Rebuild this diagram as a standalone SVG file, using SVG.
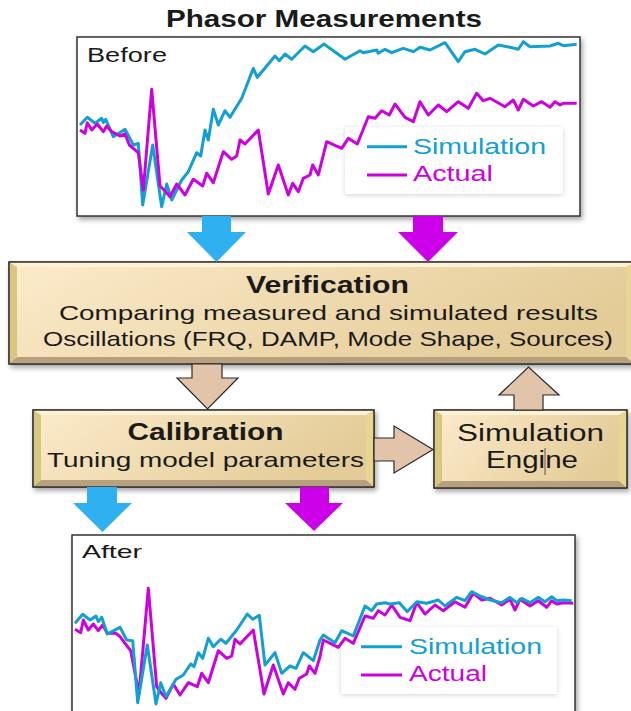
<svg xmlns="http://www.w3.org/2000/svg" width="631" height="711" viewBox="0 0 631 711">
<defs>
<linearGradient id="boxg" x1="0" y1="0" x2="1" y2="0.3">
<stop offset="0" stop-color="#FCEBCB"/>
<stop offset="1" stop-color="#E4CC98"/>
</linearGradient>
<filter id="sh" x="-10%" y="-10%" width="125%" height="130%">
<feDropShadow dx="2" dy="3" stdDeviation="2.5" flood-color="#000" flood-opacity="0.35"/>
</filter>
<filter id="lsh" x="-10%" y="-10%" width="120%" height="130%">
<feDropShadow dx="0" dy="1" stdDeviation="2" flood-color="#6a7f90" flood-opacity="0.35"/>
</filter>
</defs>
<style>
text{font-family:"Liberation Sans",Arial,sans-serif;fill:#1a1a1a}
.b{font-weight:bold}
.chart{fill:#fff;stroke:#333;stroke-width:1.5}
.legend{fill:#fff}
.sim{fill:none;stroke:#129FD2;stroke-width:3;stroke-linejoin:round}
.act{fill:none;stroke:#CC00E0;stroke-width:3;stroke-linejoin:round}
.ts{fill:#12A0D3}
.ta{fill:#CC00E0}
.box{fill:url(#boxg);stroke:#2a2a2a;stroke-width:1.2}
.bt{fill:#FDF1D6}
.bl{fill:#D6C67E}
.br{fill:#E6D690}
.bb{fill:#B7A07D}
.ab{fill:#2FB0F0}
.am{fill:#CC00E8}
.an{fill:#E2C4AA;stroke:#2a2a2a;stroke-width:1.2;stroke-linejoin:miter}
</style>

<text x="324" y="27" class="b" font-size="23" text-anchor="middle" textLength="316" lengthAdjust="spacingAndGlyphs">Phasor Measurements</text>

<g id="before">
<rect class="chart" x="77" y="37" width="503" height="179" filter="url(#sh)"/>
<text x="87" y="62" font-size="20" textLength="80" lengthAdjust="spacingAndGlyphs">Before</text>
<rect class="legend" x="345" y="127" width="218" height="67" filter="url(#lsh)"/>
<line class="sim" x1="367" y1="146.7" x2="407" y2="146.7"/>
<text class="ts" x="413" y="154" font-size="22" textLength="133" lengthAdjust="spacingAndGlyphs">Simulation</text>
<line class="act" x1="367" y1="175" x2="407" y2="175"/>
<text class="ta" x="413" y="181" font-size="22" textLength="80" lengthAdjust="spacingAndGlyphs">Actual</text>
<polyline class="sim" points="80,125 87.3,117.3 95,123.3 101.7,118.3 103.3,122.7 105.7,119.3 113.3,136.7 125,129.3 133.3,145 138.3,143.3 142.7,205 152.7,145 161.7,206.7 166.7,184 171.7,200 181.7,180 188.3,171.7 196.7,152.7 200.7,156 205,130 208.3,140 213.3,109.3 218.3,125 225,110.7 230,117.3 241.7,98.3 253.3,68.3 257.3,77.3 275,56 279.3,60.7 285,54 291.7,59.3 305,46 313.3,51.7 324,44 345,59.3 360,50.7 363.3,52.7 376.7,50 378.3,53.3 385,49.3 391.7,52.7 403.3,48.3 413.3,51.7 420,47.3 430,50 445,42.7 458.3,61.7 465,51.7 475,49.3 485,54 498.3,45 510,47.3 518.3,49.3 523.3,41.7 530,46.7 550,46 558.3,43.3 563.3,45.7 576.7,44.3"/>
<polyline class="act" points="80,130 85,133.3 87.3,122.7 91.7,130 97.3,124 103.3,131.7 106.7,126 111.7,131.7 120,136 125,134 129.3,145 138.3,152.7 143.3,190 151.7,89.3 160,186 166.7,192.7 170,196.7 176.7,184 185,195 193.3,179.3 202.7,186 206.7,173.3 213.3,182.7 223.3,151.7 231.7,159.3 236.7,156 240,140 245,144 258.3,130 268.3,194 278.3,165 288.3,195 292.7,183.3 298.3,191.7 303.3,178.3 310,175 312.7,165 318.3,175 326.7,141.7 341.7,148.3 348.3,138.3 357.3,144 368.3,116.7 375,118.3 381.7,110.7 389.3,115 395,104 405,117.3 413.3,121.7 420,101.7 428.3,115 438.3,105 446.7,111.7 458.3,101.7 468.3,108.3 476.7,93.3 483.3,100.7 490,98.3 505,106.7 513.3,100 518.3,110 523.3,99.3 533.3,106 541.7,101.7 550,107.3 555,101.7 560,105 563.3,103.3 576.7,103.3"/>
</g>

<g id="verification">
<g filter="url(#sh)">
<rect class="box" x="9" y="262" width="625" height="102"/>
<polygon class="bt" points="9.6,262.6 633.4,262.6 626,267 17,267"/>
<polygon class="bl" points="9.6,262.6 17,267 17,357 9.6,363.4"/>
<polygon class="br" points="633.4,262.6 633.4,363.4 626,357 626,267"/>
<polygon class="bb" points="9.6,363.4 17,357 626,357 633.4,363.4"/>
<rect x="9" y="262" width="625" height="102" fill="none" stroke="#2a2a2a" stroke-width="1.2"/>
</g>
<text x="327.5" y="293" class="b" font-size="23" text-anchor="middle" textLength="163" lengthAdjust="spacingAndGlyphs">Verification</text>
<text x="59" y="320" font-size="21" textLength="539" lengthAdjust="spacingAndGlyphs">Comparing measured and simulated results</text>
<text x="43" y="346" font-size="21" textLength="570" lengthAdjust="spacingAndGlyphs">Oscillations (FRQ, DAMP, Mode Shape, Sources)</text>
</g>

<g id="calibration">
<g filter="url(#sh)">
<rect class="box" x="33" y="410" width="341" height="77"/>
<polygon class="bt" points="33.6,410.6 373.4,410.6 366,415 41,415 "/>
<polygon class="bl" points="33.6,410.6 41,415 41,480 33.6,486.4"/>
<polygon class="br" points="373.4,410.6 373.4,486.4 366,480 366,415"/>
<polygon class="bb" points="33.6,486.4 41,480 366,480 373.4,486.4"/>
<rect x="33" y="410" width="341" height="77" fill="none" stroke="#2a2a2a" stroke-width="1.2"/>
</g>
<text x="205.5" y="440" class="b" font-size="23" text-anchor="middle" textLength="156" lengthAdjust="spacingAndGlyphs">Calibration</text>
<text x="47" y="467" font-size="21" textLength="317" lengthAdjust="spacingAndGlyphs">Tuning model parameters</text>
</g>

<g id="simulation-engine">
<g filter="url(#sh)">
<rect class="box" x="434" y="410" width="193" height="78"/>
<polygon class="bt" points="434.6,410.6 626.4,410.6 619,415 442,415"/>
<polygon class="bl" points="434.6,410.6 442,415 442,481 434.6,487.4"/>
<polygon class="br" points="626.4,410.6 626.4,487.4 619,481 619,415"/>
<polygon class="bb" points="434.6,487.4 442,481 619,481 626.4,487.4"/>
<rect x="434" y="410" width="193" height="78" fill="none" stroke="#2a2a2a" stroke-width="1.2"/>
</g>
<text x="530.5" y="441" font-size="23" text-anchor="middle" textLength="147" lengthAdjust="spacingAndGlyphs">Simulation</text>
<text x="532" y="468" font-size="23" text-anchor="middle" textLength="92" lengthAdjust="spacingAndGlyphs">Engine</text>
<line x1="545" y1="448" x2="545" y2="475" stroke="#555" stroke-width="1"/>
</g>

<g id="after">
<rect class="chart" x="72" y="535" width="503" height="185" filter="url(#sh)"/>
<text x="82" y="558" font-size="19" textLength="60" lengthAdjust="spacingAndGlyphs">After</text>
<rect class="legend" x="341" y="627" width="216" height="67" filter="url(#lsh)"/>
<line class="sim" x1="361" y1="646.7" x2="402" y2="646.7"/>
<text class="ts" x="409" y="654" font-size="22" textLength="133" lengthAdjust="spacingAndGlyphs">Simulation</text>
<line class="act" x1="361" y1="675" x2="402" y2="675"/>
<text class="ta" x="409" y="681" font-size="22" textLength="78" lengthAdjust="spacingAndGlyphs">Actual</text>
<polyline class="act" points="75,629.3 80.7,632.7 83.3,620 88.3,630 93.3,624 98.3,630.7 102.7,625 107.3,633.3 116,633.3 120,636.7 125,643.3 130.7,650.7 139,694 148.3,588.3 156.7,686.7 161,692.7 166,698.3 173.3,684 180,695 188.3,682.7 197.3,686.7 201.7,673.3 208.3,682.7 218.3,650.7 226.7,658.3 231.7,656 235,639.3 240,644 253.3,630 264,694 273.3,665 283.3,694 288.3,682.7 295,689.3 299.3,678.3 306.7,674 309.3,666 315,673.3 320,656.7 323.3,640 338.3,647.3 345,638.3 353.3,643.3 365,616 373.3,618.3 378.3,610.7 385,615 391.7,605 400,617.3 410,620.7 416.7,602.7 425,614 435,605 443.3,610.7 455,601.7 465,607.3 473.3,593.3 481.7,600 490,598.3 501.7,605 510,599.3 515,610 520,599.3 530,606 538.3,600.7 546.7,607.3 551.7,600.7 556.7,604 563.3,602.7 573.3,603.3"/>
<polyline class="sim" points="75,623.3 82.7,614.3 90,620 96,616 98.3,621.7 101.7,617.3 107.3,634 120,627.3 126.7,640 132.7,640.7 137.7,702.7 147.3,645 156,704 160.7,682.7 166,696.7 176,679.3 183.3,675 190.7,664 194,666.7 198.3,652.7 202.7,658.3 208.3,638.3 213.3,646.7 220.7,639.3 226,643.3 236.7,630 247.3,614 252.7,619.3 259.3,615.3 265,665 275,652.7 281.7,673.3 290,666 296,668.3 303.3,652.7 313.3,660.7 320,640 323.3,635 335,642.7 341.7,630.7 353.3,636 365,606 371.7,610.7 376.7,604 385,602.7 390,604 399.3,602.7 407.3,611.7 416.7,601.7 426.7,603.3 438.3,600 445,606 456.7,597.3 465,600.7 471.7,591.7 480,596 490,600 501.7,602.7 510,597.3 516.7,602.7 521.7,598.3 530,602.7 538.3,597.3 545,601.7 551.7,596.7 556.7,600.7 563.3,600 571.7,600.7"/>
</g>

<g id="connectors">
<polygon class="ab" points="202,216 231,216 231,232 246,232 216.5,262 187,232 202,232"/>
<polygon class="am" points="413,216 443,216 443,232 458,232 428,262 398,232 413,232"/>
<polygon class="an" points="192,364 222,364 222,378 238,378 207.5,409 177,378 192,378"/>
<polygon class="an" points="514,410 514,395 499,395 528.5,367 559,395 543,395 543,410"/>
<polygon class="an" points="374,438 394,438 394,426 433,449.5 394,473 394,461 374,461"/>
<polygon class="ab" points="87,487 117,487 117,503 132,503 102.5,532 73,503 87,503"/>
<polygon class="am" points="300,487 329,487 329,503 343,503 314,531 285,503 300,503"/>
</g>
</svg>
